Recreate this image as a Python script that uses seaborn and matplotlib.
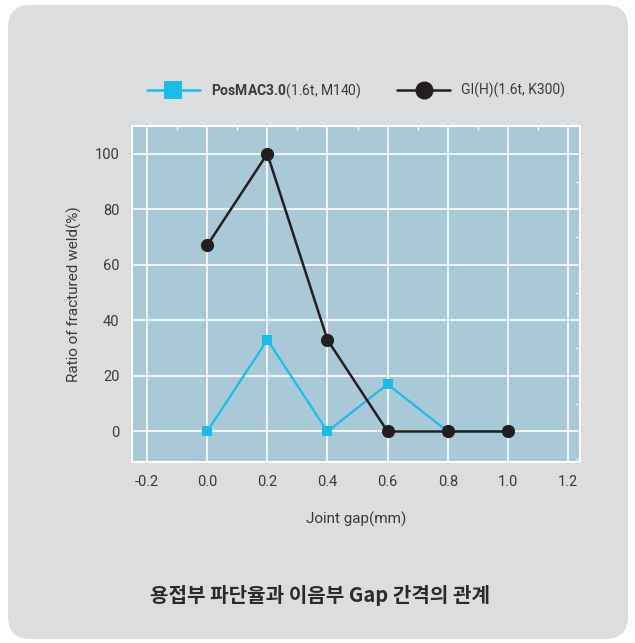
import numpy as np
import pandas as pd
import matplotlib
matplotlib.use("Agg")
import matplotlib.pyplot as plt
import seaborn as sns
from matplotlib.patches import FancyBboxPatch
from matplotlib.lines import Line2D
from matplotlib.ticker import MultipleLocator

# data
joint_gap = [0.0, 0.2, 0.4, 0.6, 0.8, 1.0]
posmac = [0, 33, 0, 17, 0, 0]
gi = [67, 100, 33, 0, 0, 0]
series_names = ["PosMAC3.0", "GI(H)"]
legend_labels = [r"$\mathbf{PosMAC3.0}$(1.6t, M140)", "GI(H)(1.6t, K300)"]
xticks = [-0.2, 0.0, 0.2, 0.4, 0.6, 0.8, 1.0, 1.2]
yticks = [0, 20, 40, 60, 80, 100]
title = "용접부 파단율과 이음부 Gap 간격의 관계"

blue = "#1bbde8"
black = "#231f20"
face = "#a9c9d8"
panel = "#dcdddf"
text_c = "#3a3a3a"

sns.set_style("white")
plt.rcParams["font.family"] = ["Roboto", "DejaVu Sans"]
plt.rcParams["mathtext.fontset"] = "custom"
plt.rcParams["mathtext.bf"] = "Roboto:bold"
plt.rcParams["mathtext.rm"] = "Roboto"

df = pd.DataFrame({
    "gap": joint_gap * 2,
    "ratio": posmac + gi,
    "series": [series_names[0]] * len(joint_gap) + [series_names[1]] * len(joint_gap),
})

fig = plt.figure(figsize=(6.35, 6.43), dpi=100)
fig.patch.set_facecolor("white")
bg = FancyBboxPatch((8 / 635, 4 / 643), 620 / 635, 634 / 643,
                    boxstyle="round,pad=0,rounding_size=0.035",
                    transform=fig.transFigure, facecolor=panel, edgecolor="none",
                    zorder=-10)
fig.patches.append(bg)

ax = fig.add_axes([132 / 635, (643 - 462) / 643, 448 / 635, 336 / 643])
ax.set_facecolor(face)

sns.lineplot(data=df[df.series == series_names[0]], x="gap", y="ratio", ax=ax,
             color=blue, marker="s", markersize=7.5, markeredgewidth=0,
             linewidth=1.6, zorder=3)
sns.lineplot(data=df[df.series == series_names[1]], x="gap", y="ratio", ax=ax,
             color=black, marker="o", markersize=9.5, markeredgewidth=0,
             linewidth=1.8, zorder=4)

ax.set_xlim(-0.25, 1.24)
ax.set_ylim(-11, 110)
ax.set_xticks(xticks)
ax.set_xticklabels([f"{t:.1f}" for t in xticks])
ax.set_yticks(yticks)
ax.xaxis.set_minor_locator(MultipleLocator(0.1))
ax.yaxis.set_minor_locator(MultipleLocator(10))
ax.grid(True, which="major", color="white", linewidth=1.2)
ax.tick_params(which="both", direction="in", color="white", top=True, right=True,
               labelsize=10.5, labelcolor=text_c)
ax.tick_params(axis="x", which="major", length=0, pad=9)
ax.tick_params(axis="y", which="major", length=0, pad=9)
ax.tick_params(which="minor", length=3, width=1)
for s in ax.spines.values():
    s.set_color("white")
    s.set_linewidth(1.5)

ax.set_xlabel("Joint gap(mm)", fontsize=11, color=text_c, labelpad=17)
ax.set_ylabel("Ratio of fractured weld(%)", fontsize=11, color=text_c, labelpad=9)

handles = [
    Line2D([], [], color=blue, marker="s", markersize=13, markeredgewidth=0, linewidth=1.8),
    Line2D([], [], color=black, marker="o", markersize=13, markeredgewidth=0, linewidth=1.8),
]
fig.legend(handles, legend_labels, loc="center", bbox_to_anchor=(356 / 635, 1 - 91 / 643),
           ncol=2, frameon=False, fontsize=10, handlelength=3.8, columnspacing=2.6,
           handletextpad=0.8, labelcolor=text_c)

fig.text(320 / 635, 1 - 595 / 643, title, ha="center", va="center", fontsize=14.5,
         fontweight="bold", color="#2a2a2a", family=["Noto Sans CJK KR", "DejaVu Sans"])

fig.savefig("out.png", dpi=100)
